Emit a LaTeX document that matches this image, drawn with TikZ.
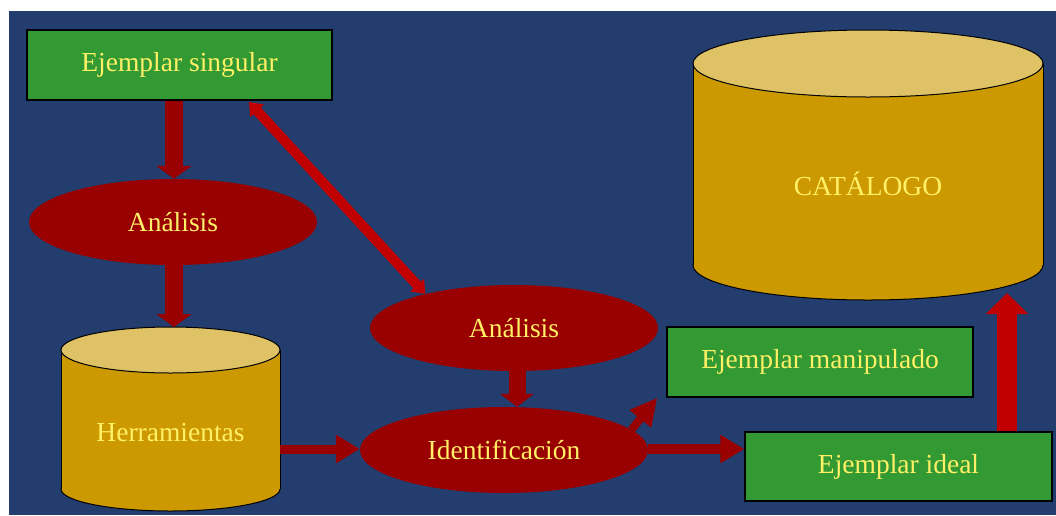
\documentclass[tikz,border=0pt]{standalone}
\usepackage{fontspec}
\setmainfont{Liberation Serif}
\usetikzlibrary{shapes.geometric,arrows.meta}
\definecolor{bg}{HTML}{233D6E}
\definecolor{boxgreen}{HTML}{339933}
\definecolor{darkred}{HTML}{990000}
\definecolor{brightred}{HTML}{C00000}
\definecolor{cylbody}{HTML}{CC9900}
\definecolor{cyltop}{HTML}{DFC266}
\definecolor{txt}{HTML}{FFF066}
\begin{document}
\begin{tikzpicture}[x=1pt,y=-1pt,
  lbl/.style={text=txt, font=\fontsize{27.5}{30}\selectfont},
  greenbox/.style={lbl, draw=black, line width=1.5pt, fill=boxgreen, minimum width=305pt, minimum height=70pt, inner sep=0pt},
  redell/.style={lbl, ellipse, fill=darkred, minimum width=288pt, minimum height=86pt, inner sep=0pt},
  cylline/.style={draw=black, line width=1pt},
  bigarrow/.style={darkred, line width=18pt, -{Triangle[width=35pt,length=13pt]}},
  slimarrow/.style={darkred, line width=9pt, -{Triangle[width=27pt,length=24pt]}},
  diagarrow/.style={brightred, line width=10pt, {Triangle[width=18pt,length=12pt]}-{Triangle[width=18pt,length=12pt]}},
  uparrow/.style={brightred, line width=20pt, -{Triangle[width=41pt,length=21pt]}}
]
\useasboundingbox (0,0) rectangle (1056,515);
\fill[bg] (9,11) rectangle (1056,515);

% Herramientas cylinder
\filldraw[fill=cylbody, cylline] (170.5,489) ellipse[x radius=109.5pt, y radius=22pt];
\fill[cylbody] (61,350) rectangle (280,489);
\draw[cylline] (61,350) -- (61,489) (280,350) -- (280,489);
\filldraw[fill=cyltop, cylline] (170.5,350) ellipse[x radius=109.5pt, y radius=23pt];
\node[lbl] (herr) at (170.5,433) {Herramientas};
\coordinate (herrtop) at (170.5,327);
\coordinate (herrR) at (280,449);

% CATALOGO cylinder
\filldraw[fill=cylbody, cylline] (868,265) ellipse[x radius=175pt, y radius=35pt];
\fill[cylbody] (693,63.5) rectangle (1043,265);
\draw[cylline] (693,63.5) -- (693,265) (1043,63.5) -- (1043,265);
\filldraw[fill=cyltop, cylline] (868,63.5) ellipse[x radius=175pt, y radius=33.5pt];
\node[lbl] (cat) at (868,184) {CATÁLOGO};
\coordinate (catb) at (1007,293);

% boxes
\node[greenbox] (sing) at (179.5,65) {Ejemplar singular};
\node[greenbox, minimum width=306pt] (manip) at (820,362) {Ejemplar manipulado};
\node[greenbox, minimum width=307pt, minimum height=69pt] (ideal) at (898.5,466.5) {Ejemplar ideal};

% ellipses
\node[redell] (an1) at (173,222) {Análisis};
\node[redell] (an2) at (514,328) {Análisis};
\node[redell] (ident) at (504,450) {Identificación};

\coordinate (d1) at (249,102);
\coordinate (mtip) at ([xshift=-9pt]manip.south west);

% connectors
\draw[bigarrow] ([xshift=1pt]an1.north |- sing.south) -- ([xshift=1pt]an1.north);
\draw[bigarrow] ([xshift=1pt]an1.south) -- ([xshift=1pt]an1.south |- herrtop);
\draw[slimarrow] (herrR) -- (herrR -| ident.west);
\draw[bigarrow, line width=17pt, -{Triangle[width=33pt,length=13pt]}] ([xshift=3pt]an2.south) -- ([xshift=3pt]an2.south |- ident.north);
\draw[slimarrow, line width=10pt] ([yshift=1pt]ident.east) -- ([yshift=1pt]ident.east -| ideal.west);
\draw[darkred, line width=8pt, -{Triangle[width=26pt,length=27pt]}] (ident.9) -- (mtip);
\draw[diagarrow] (d1) -- (an2.159);
\draw[uparrow] (ideal.north -| catb) -- (catb);
\end{tikzpicture}
\end{document}
